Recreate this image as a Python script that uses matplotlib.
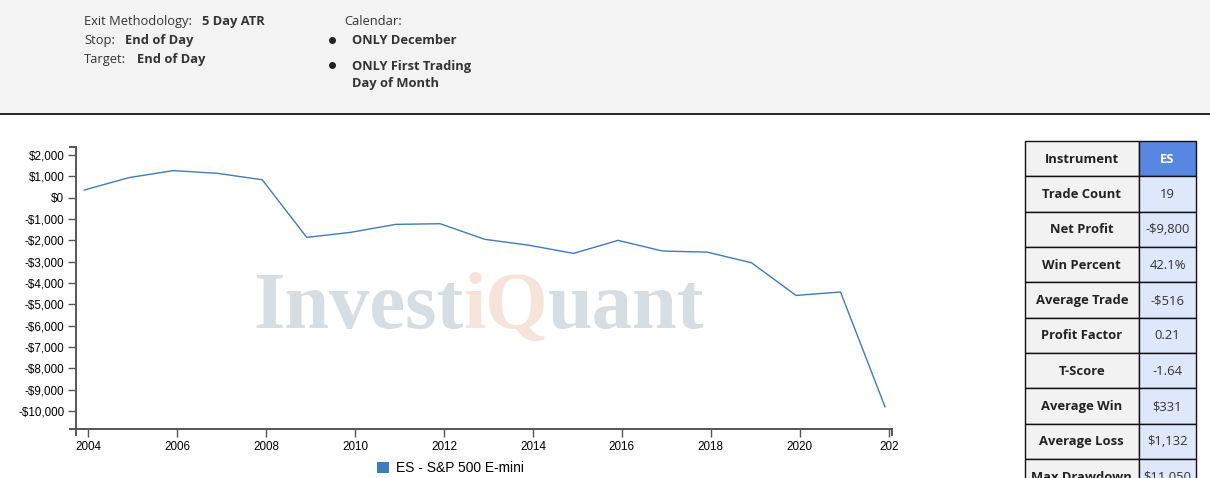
import datetime as dt
import matplotlib
matplotlib.use("Agg")
import matplotlib.pyplot as plt
from matplotlib.patches import Rectangle
from matplotlib.lines import Line2D

# cumulative profit, one trade on the first trading day of each December
years = list(range(2003, 2022))
equity = [360, 940, 1270, 1140, 840, -1860, -1620, -1250, -1220, -1950,
          -2230, -2610, -2000, -2500, -2550, -3050, -4580, -4420, -9800]

stat_names = ["Instrument", "Trade Count", "Net Profit", "Win Percent", "Average Trade",
              "Profit Factor", "T-Score", "Average Win", "Average Loss", "Max Drawdown"]
stat_values = ["ES", "19", "-$9,800", "42.1%", "-$516", "0.21", "-1.64", "$331",
               "$1,132", "$11,050"]

tick_years = list(range(2004, 2023, 2))
y_ticks = list(range(2000, -10001, -1000))

W, H = 1210, 478
fig = plt.figure(figsize=(W / 100, H / 100), dpi=100)
fig.patch.set_facecolor("white")


def fx(x):
    return x / W


def fy(y):
    return 1 - y / H


ui = ["Open Sans", "DejaVu Sans"]
dark = "#333333"

# top grey band with settings
fig.add_artist(Rectangle((0, fy(113)), 1, 1 - fy(113), transform=fig.transFigure,
                         facecolor="#f3f3f3", edgecolor="none", zorder=0))
fig.add_artist(Line2D([0, 1], [fy(113.5), fy(113.5)], transform=fig.transFigure,
                      color="black", lw=1.2))

fs = 9.3
fig.text(fx(84), fy(25), "Exit Methodology:", family=ui, fontsize=fs, color=dark, va="baseline")
fig.text(fx(202), fy(25), "5 Day ATR", family=ui, fontsize=fs, color=dark, va="baseline", weight="bold")
fig.text(fx(84), fy(44), "Stop:", family=ui, fontsize=fs, color=dark, va="baseline")
fig.text(fx(125), fy(44), "End of Day", family=ui, fontsize=fs, color=dark, va="baseline", weight="bold")
fig.text(fx(84), fy(63), "Target:", family=ui, fontsize=fs, color=dark, va="baseline")
fig.text(fx(137), fy(63), "End of Day", family=ui, fontsize=fs, color=dark, va="baseline", weight="bold")
fig.text(fx(344), fy(25), "Calendar:", family=ui, fontsize=fs, color=dark, va="baseline")
for by in (39.5, 64.5):
    fig.add_artist(Line2D([fx(332)], [fy(by)], transform=fig.transFigure, marker="o",
                          markersize=4, color="#222222", linestyle="none"))
fig.text(fx(352), fy(44), "ONLY December", family=ui, fontsize=fs, color=dark, va="baseline", weight="bold")
fig.text(fx(352), fy(70), "ONLY First Trading", family=ui, fontsize=fs, color=dark, va="baseline", weight="bold")
fig.text(fx(352), fy(87), "Day of Month", family=ui, fontsize=fs, color=dark, va="baseline", weight="bold")

# chart
left, right, top, bottom = 76, 891.7, 146.7, 429
ax = fig.add_axes([fx(left), fy(bottom), fx(right - left), fy(top) - fy(bottom)])
ax.patch.set_alpha(0)

dates = [dt.date(y, 12, 1) for y in years]
ax.plot(dates, equity, color="#3d7cbd", lw=1.0, zorder=3)
ax.set_xlim(dt.date(2003, 9, 24), dt.date(2022, 1, 25))
ax.set_ylim(-10840, 2390)

ax.set_xticks([dt.date(y, 1, 1) for y in tick_years])
xlabels = [str(y) for y in tick_years]
xlabels[-1] = "202"
ax.set_xticklabels(xlabels)
ax.set_yticks(y_ticks)
ax.set_yticklabels([("-$" if v < 0 else "$") + f"{abs(v):,}" for v in y_ticks])

tick_font = ["Liberation Sans", "DejaVu Sans"]
for lab in ax.get_xticklabels() + ax.get_yticklabels():
    lab.set_family(tick_font)
    lab.set_fontsize(8.4)
    lab.set_color("black")
ax.tick_params(axis="both", direction="out", length=6, width=1, color="#555555", pad=2.5)

for side in ("top", "right"):
    ax.spines[side].set_visible(False)
for side in ("left", "bottom"):
    ax.spines[side].set_color("#555555")
    ax.spines[side].set_linewidth(1.4)

# d3-style outer ticks at the ends of the domain lines
edge = dict(transform=fig.transFigure, color="#555555", lw=1.4)
fig.add_artist(Line2D([fx(left - 6), fx(left)], [fy(top), fy(top)], **edge))
fig.add_artist(Line2D([fx(left - 6), fx(left)], [fy(bottom), fy(bottom)], **edge))
fig.add_artist(Line2D([fx(left), fx(left)], [fy(bottom), fy(bottom + 6)], **edge))
fig.add_artist(Line2D([fx(right), fx(right)], [fy(bottom), fy(bottom + 6)], **edge))

# watermark
wm_font = ["Liberation Serif", "DejaVu Serif"]
wm_size = 58
fig.canvas.draw()
renderer = fig.canvas.get_renderer()
x_cursor = fx(253)
for part, col in (("Invest", "#d6dde3"), ("iQ", "#f6e4da"), ("uant", "#d6dde3")):
    t = fig.text(x_cursor, fy(328), part, family=wm_font, fontsize=wm_size, weight="bold",
                 color=col, va="baseline", ha="left", zorder=1)
    bb = t.get_window_extent(renderer)
    x_cursor += bb.width / W

# legend
fig.add_artist(Rectangle((fx(377), fy(473)), fx(12), fy(462) - fy(473), transform=fig.transFigure,
                         facecolor="#3d7cbd", edgecolor="none"))
fig.text(fx(396), fy(467.5), "ES - S&P 500 E-mini", family=tick_font, fontsize=9.9,
         color="black", va="center", ha="left")

# stats table
t_left, t_mid, t_right, t_top, row_h = 1024.5, 1139, 1196, 141, 35.35
for i, (name, val) in enumerate(zip(stat_names, stat_values)):
    y0 = t_top + i * row_h
    y1 = y0 + row_h
    header = i == 0
    fig.add_artist(Rectangle((fx(t_left), fy(y1)), fx(t_mid - t_left), fy(y0) - fy(y1),
                             transform=fig.transFigure, facecolor="#f2f2f2",
                             edgecolor="#111111", lw=1.0))
    fig.add_artist(Rectangle((fx(t_mid), fy(y1)), fx(t_right - t_mid), fy(y0) - fy(y1),
                             transform=fig.transFigure,
                             facecolor="#5787e0" if header else "#dfe8fb",
                             edgecolor="#111111", lw=1.0))
    cy = fy((y0 + y1) / 2 + 0.5)
    fig.text(fx((t_left + t_mid) / 2), cy, name, family=ui, fontsize=9.4, weight="bold",
             color="#222222", ha="center", va="center")
    fig.text(fx((t_mid + t_right) / 2), cy, val, family=ui, fontsize=9.4,
             weight="bold" if header else "normal",
             color="white" if header else "#333333", ha="center", va="center")

fig.savefig("out.png", dpi=100)
